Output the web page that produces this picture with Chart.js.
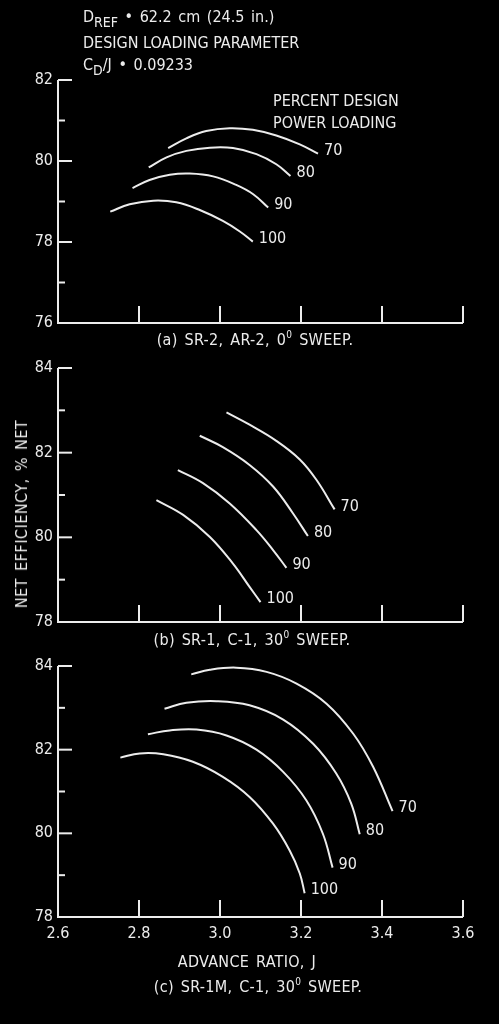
<!DOCTYPE html>
<html>
<head>
<meta charset="utf-8">
<script src="https://cdn.jsdelivr.net/npm/chart.js@4/dist/chart.umd.min.js"></script>
<style>
html, body { margin: 0; padding: 0; background: #000; }
body { width: 499px; height: 1024px; position: relative; overflow: hidden; color: #ececec;
       font-family: "Liberation Sans Narrow", "DejaVu Sans Condensed", "Open Sans", sans-serif; }
canvas { position: absolute; left: 0; }
.t { position: absolute; white-space: nowrap; font-size: 16px; line-height: 1; }
.t sub { font-size: 14px; vertical-align: -5px; line-height: 0; }
.t sup { font-size: 10px; vertical-align: 7px; line-height: 0; }
.cap { word-spacing: 2px; letter-spacing: 0.3px; }
</style>
</head>
<body>
<canvas id="chartA" width="499" height="350" style="top:0"></canvas>
<canvas id="chartB" width="499" height="300" style="top:350px"></canvas>
<canvas id="chartC" width="499" height="374" style="top:650px"></canvas>

<div class="t" style="left:83px;top:9px;word-spacing:2px">D<sub>REF</sub> &bull; 62.2 cm (24.5 in.)</div>
<div class="t" style="left:83px;top:35px">DESIGN LOADING PARAMETER</div>
<div class="t" style="left:83px;top:57px;word-spacing:2px">C<sub>D</sub>/J &bull; 0.09233</div>
<div class="t" style="left:273px;top:93px">PERCENT DESIGN</div>
<div class="t" style="left:273px;top:115px">POWER LOADING</div>
<div class="t cap" style="left:255px;top:332px;transform:translateX(-50%)">(a) SR-2, AR-2, 0<sup>0</sup> SWEEP.</div>
<div class="t cap" style="left:252px;top:632px;transform:translateX(-50%)">(b) SR-1, C-1, 30<sup>0</sup> SWEEP.</div>
<div class="t cap" style="left:247px;top:954px;transform:translateX(-50%)">ADVANCE RATIO, J</div>
<div class="t cap" style="left:258px;top:979px;transform:translateX(-50%)">(c) SR-1M, C-1, 30<sup>0</sup> SWEEP.</div>
<div class="t" style="left:22px;top:514px;letter-spacing:0.5px;word-spacing:2px;transform:translate(-50%,-50%) rotate(-90deg)">NET EFFICIENCY, % NET</div>

<script>
const ink = "#ececec";
const fontFamily = '"Liberation Sans Narrow", "DejaVu Sans Condensed", "Open Sans", sans-serif';

// Percent design power loading (one curve each)
const loadings = ["70", "80", "90", "100"];

// Advance ratio axis
const xTicks = [2.6, 2.8, 3.0, 3.2, 3.4, 3.6];

// (a) SR-2, AR-2, 0 deg sweep
const yTicksA = [76, 78, 80, 82];
const yMinorA = [77, 79, 81];
const jA70 = [2.872, 2.917, 2.966, 3.024, 3.081, 3.139, 3.197, 3.242];
const effA70 = [80.32, 80.56, 80.74, 80.81, 80.77, 80.63, 80.41, 80.18];
const jA80 = [2.824, 2.868, 2.917, 2.975, 3.032, 3.090, 3.139, 3.174];
const effA80 = [79.84, 80.09, 80.25, 80.33, 80.32, 80.17, 79.92, 79.63];
const jA90 = [2.784, 2.826, 2.876, 2.925, 2.983, 3.040, 3.082, 3.119];
const effA90 = [79.33, 79.53, 79.66, 79.69, 79.62, 79.41, 79.18, 78.85];
const jA100 = [2.729, 2.777, 2.835, 2.892, 2.950, 3.007, 3.049, 3.081];
const effA100 = [78.75, 78.93, 79.02, 78.98, 78.79, 78.52, 78.26, 78.01];

// (b) SR-1, C-1, 30 deg sweep
const yTicksB = [78, 80, 82, 84];
const yMinorB = [79, 81, 83];
const jB70 = [3.016, 3.073, 3.139, 3.197, 3.238, 3.283];
const effB70 = [82.95, 82.66, 82.28, 81.84, 81.36, 80.66];
const jB80 = [2.950, 3.007, 3.073, 3.131, 3.180, 3.217];
const effB80 = [82.40, 82.13, 81.71, 81.20, 80.57, 80.03];
const jB90 = [2.896, 2.958, 3.024, 3.090, 3.131, 3.164];
const effB90 = [81.59, 81.28, 80.80, 80.17, 79.70, 79.28];
const jB100 = [2.843, 2.909, 2.975, 3.032, 3.073, 3.100];
const effB100 = [80.88, 80.53, 80.01, 79.38, 78.83, 78.47];

// (c) SR-1M, C-1, 30 deg sweep
const yTicksC = [78, 80, 82, 84];
const yMinorC = [79, 81, 83];
const jC70 = [2.929, 2.975, 3.040, 3.115, 3.189, 3.263, 3.329, 3.378, 3.426];
const effC70 = [83.80, 83.91, 83.96, 83.86, 83.58, 83.10, 82.38, 81.59, 80.53];
const jC80 = [2.863, 2.917, 2.991, 3.073, 3.156, 3.230, 3.287, 3.324, 3.345];
const effC80 = [82.98, 83.12, 83.16, 83.06, 82.72, 82.14, 81.43, 80.71, 79.98];
const jC90 = [2.822, 2.876, 2.942, 3.016, 3.090, 3.156, 3.213, 3.254, 3.278];
const effC90 = [82.37, 82.46, 82.48, 82.34, 82.00, 81.47, 80.79, 79.99, 79.18];
const jC100 = [2.754, 2.802, 2.860, 2.933, 3.007, 3.073, 3.131, 3.172, 3.197, 3.209];
const effC100 = [81.81, 81.91, 81.89, 81.71, 81.35, 80.87, 80.23, 79.59, 79.04, 78.57];

Chart.defaults.animation = false;
Chart.defaults.font.family = fontFamily;
Chart.defaults.color = ink;

function pairs(js, effs) {
    return js.map((j, i) => ({ x: j, y: effs[i] }));
}

// Axes drawn by hand: inward ticks, labels, curve tags
const axesPlugin = {
    id: "axesPlugin",
    afterDatasetsDraw(chart) {
        const o = chart.options.plugins.axesPlugin;
        const { ctx, chartArea: { left, right, top, bottom }, scales: { x, y } } = chart;
        ctx.save();
        ctx.strokeStyle = ink;
        ctx.fillStyle = ink;
        ctx.lineWidth = 2;

        ctx.beginPath();
        ctx.moveTo(left, top);
        ctx.lineTo(left, bottom);
        ctx.lineTo(right, bottom);
        ctx.stroke();

        ctx.font = "16px " + fontFamily;
        ctx.textAlign = "right";
        ctx.textBaseline = "middle";
        o.yTicks.forEach(v => {
            const py = y.getPixelForValue(v);
            ctx.beginPath();
            ctx.moveTo(left, py);
            ctx.lineTo(left + 14, py);
            ctx.stroke();
            ctx.fillText(String(v), left - 5, py);
        });
        o.yMinor.forEach(v => {
            const py = y.getPixelForValue(v);
            ctx.beginPath();
            ctx.moveTo(left, py);
            ctx.lineTo(left + 7, py);
            ctx.stroke();
        });

        ctx.textAlign = "center";
        ctx.textBaseline = "top";
        xTicks.forEach((v, i) => {
            const px = x.getPixelForValue(v);
            if (i > 0) {
                ctx.beginPath();
                ctx.moveTo(px, bottom);
                ctx.lineTo(px, bottom - 17);
                ctx.stroke();
            }
            if (o.xLabels) ctx.fillText(v.toFixed(1), px, bottom + 9);
        });

        ctx.textAlign = "left";
        ctx.textBaseline = "middle";
        chart.data.datasets.forEach((ds, i) => {
            const pts = chart.getDatasetMeta(i).data;
            const end = pts[pts.length - 1];
            ctx.fillText(ds.label, end.x + 6, end.y - 3);
        });
        ctx.restore();
    }
};

function makePanel(id, padding, yMin, yMax, series, yTicks, yMinor, xLabels) {
    return new Chart(document.getElementById(id), {
        type: "line",
        data: {
            datasets: series.map((s, i) => ({
                label: loadings[i],
                data: pairs(s[0], s[1]),
                borderColor: ink,
                borderWidth: 2,
                pointRadius: 0,
                fill: false,
                tension: 0.4,
                clip: false
            }))
        },
        options: {
            responsive: false,
            layout: { padding: padding },
            scales: {
                x: { type: "linear", min: 2.6, max: 3.6, display: false },
                y: { type: "linear", min: yMin, max: yMax, display: false }
            },
            plugins: {
                legend: { display: false },
                tooltip: { enabled: false },
                axesPlugin: { yTicks: yTicks, yMinor: yMinor, xLabels: xLabels }
            }
        },
        plugins: [axesPlugin]
    });
}

makePanel("chartA", { left: 58, right: 36, top: 80, bottom: 27 }, 76, 82,
    [[jA70, effA70], [jA80, effA80], [jA90, effA90], [jA100, effA100]], yTicksA, yMinorA, false);
makePanel("chartB", { left: 58, right: 36, top: 18, bottom: 28 }, 78, 84,
    [[jB70, effB70], [jB80, effB80], [jB90, effB90], [jB100, effB100]], yTicksB, yMinorB, false);
makePanel("chartC", { left: 58, right: 36, top: 16, bottom: 107 }, 78, 84,
    [[jC70, effC70], [jC80, effC80], [jC90, effC90], [jC100, effC100]], yTicksC, yMinorC, true);
</script>
</body>
</html>
